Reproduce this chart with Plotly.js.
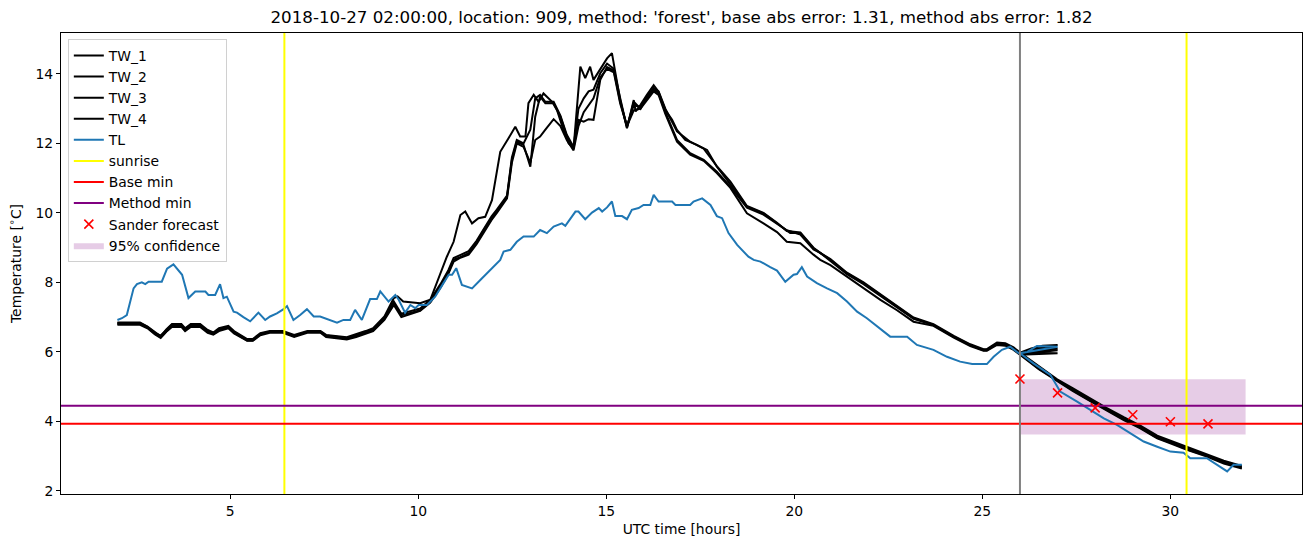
<!DOCTYPE html>
<html>
<head>
<meta charset="utf-8">
<script src="https://cdn.plot.ly/plotly-3.0.1.min.js"></script>
<style>
  html, body { margin: 0; padding: 0; background: #fff; }
  #plot { width: 1310px; height: 547px; }
</style>
</head>
<body>
<div id="plot"></div>
<script>
// Water temperature sensors TW_1 (early riser)
const tw1_hours = [2.0, 2.6, 2.8, 3.0, 3.15, 3.3, 3.45, 3.7, 3.8, 3.95, 4.2, 4.4, 4.55, 4.7, 4.95, 5.1, 5.45, 5.6, 5.8, 6.05,
  6.4, 6.7, 7.05, 7.4, 7.55, 8.1, 8.35, 8.6, 8.8, 9.1, 9.35, 9.45, 9.6, 10.05, 10.32, 10.59, 10.76, 10.94, 11.12, 11.25,
  11.43, 11.6, 11.78, 11.96, 12.09, 12.18, 12.4, 12.58, 12.71, 12.85, 12.93, 13.07, 13.2, 13.33, 13.56, 13.69, 13.86, 14.0, 14.13, 14.22,
  14.31, 14.44, 14.57, 14.66, 14.84, 15.02, 15.15, 15.37, 15.55, 15.73, 15.78, 15.91, 16.08, 16.26, 16.39, 16.57, 16.75, 16.88, 17.1, 17.41,
  17.68, 17.94, 18.21, 18.48, 18.74, 19.18, 19.54, 19.89, 20.16, 20.51, 20.96, 21.4, 21.84, 22.29, 22.73, 23.17, 23.7, 24.24, 24.68, 25.03,
  25.12, 25.39, 25.61, 25.83, 26.0, 26.3, 26.6, 27.0, 26.0, 26.5, 26.99, 27.4, 27.87, 28.3, 28.76, 29.2, 29.65, 30.05, 30.44, 30.97,
  31.42, 31.9];
const tw1_temp = [6.85, 6.85, 6.73, 6.58, 6.45, 6.65, 6.8, 6.8, 6.68, 6.8, 6.8, 6.63, 6.56, 6.68, 6.75, 6.6, 6.37, 6.37, 6.54, 6.6,
  6.6, 6.49, 6.6, 6.6, 6.49, 6.42, 6.5, 6.6, 6.68, 7.02, 7.55, 7.6, 7.45, 7.4, 7.5, 8.26, 8.74, 9.17, 9.94, 10.04,
  9.7, 9.85, 9.89, 10.37, 11.24, 11.76, 12.15, 12.48, 12.2, 12.2, 13.16, 13.4, 13.2, 13.44, 13.2, 12.96, 12.39, 12.0, 11.86, 13.06,
  14.21, 13.88, 14.21, 13.83, 14.16, 14.45, 14.6, 13.25, 12.44, 13.25, 12.92, 13.11, 13.4, 13.68, 13.49, 12.96, 12.68, 12.39, 12.1, 11.96,
  11.81, 11.33, 10.95, 10.57, 10.18, 9.99, 9.7, 9.42, 9.42, 8.98, 8.65, 8.26, 7.98, 7.64, 7.3, 6.97, 6.78, 6.44, 6.2, 6.06,
  6.06, 6.25, 6.23, 6.11, 5.96, 6.05, 6.12, 6.1, 5.96, 5.55, 5.19, 4.93, 4.62, 4.36, 4.09, 3.85, 3.56, 3.4, 3.23, 3.04,
  2.84, 2.7];

// TW_2..TW_4 share their time stamps
const tw_hours = [2.0, 2.6, 2.8, 3.0, 3.15, 3.3, 3.45, 3.7, 3.8, 3.95, 4.2, 4.4, 4.55, 4.7, 4.95, 5.1, 5.45, 5.6, 5.8, 6.05,
  6.4, 6.7, 7.05, 7.4, 7.55, 8.1, 8.35, 8.6, 8.8, 9.1,
  9.35, 9.55, 10.05, 10.32, 10.59, 10.8, 10.94, 11.1, 11.34, 11.55, 11.74, 11.95, 12.09, 12.36, 12.49, 12.62, 12.8, 12.98, 13.11, 13.24,
  13.38, 13.6, 13.78, 13.95, 14.13, 14.26, 14.4, 14.53, 14.66, 14.84, 15.02, 15.2, 15.37, 15.55, 15.73, 15.91, 16.08, 16.26, 16.39, 16.57,
  16.88, 17.23, 17.59, 17.94, 18.3, 18.74, 19.18, 19.54, 19.8, 20.16, 20.51, 20.69, 20.96, 21.4, 21.84, 22.29, 22.73, 23.17, 23.7, 24.24,
  24.68, 25.03, 25.12, 25.39, 25.61, 25.83, 26.0, 26.3, 26.6, 27.0, 26.0, 26.5, 26.99, 27.4, 27.87, 28.3, 28.76, 29.2, 29.65, 30.05,
  30.44, 30.97, 31.42, 31.9];
const tw2_temp = [6.8, 6.8, 6.7, 6.52, 6.42, 6.6, 6.75, 6.75, 6.62, 6.75, 6.75, 6.58, 6.52, 6.62, 6.7, 6.55, 6.33, 6.33, 6.5, 6.57,
  6.57, 6.45, 6.57, 6.57, 6.45, 6.38, 6.45, 6.55, 6.62, 6.95,
  7.4, 7.05, 7.2, 7.45, 7.9, 8.3, 8.65, 8.72, 8.84, 9.15, 9.51, 9.85, 10.04, 10.47, 11.53, 12.05, 11.96, 11.33, 12.77, 13.35,
  13.16, 13.16, 12.77, 12.2, 11.86, 12.68, 12.63, 12.7, 12.68, 13.83, 14.2, 14.1, 13.2, 12.5, 13.1, 13.05, 13.3, 13.55, 13.45, 12.9,
  12.1, 11.72, 11.53, 11.19, 10.76, 10.15, 9.95, 9.68, 9.5, 9.38, 8.95, 8.85, 8.62, 8.24, 7.95, 7.62, 7.28, 6.95, 6.77, 6.43,
  6.19, 6.05, 6.05, 6.23, 6.21, 6.09, 5.94, 6.0, 6.08, 6.05, 5.94, 5.52, 5.17, 4.9, 4.6, 4.33, 4.06, 3.82, 3.53, 3.37,
  3.2, 3.01, 2.81, 2.67];
const tw3_temp = [6.83, 6.83, 6.72, 6.55, 6.47, 6.63, 6.78, 6.78, 6.65, 6.78, 6.78, 6.6, 6.54, 6.65, 6.72, 6.58, 6.35, 6.35, 6.52, 6.58,
  6.58, 6.47, 6.58, 6.58, 6.47, 6.4, 6.48, 6.58, 6.65, 6.98,
  7.45, 7.1, 7.25, 7.5, 7.95, 8.35, 8.7, 8.78, 8.9, 9.2, 9.55, 9.9, 10.1, 10.5, 11.6, 12.1, 12.0, 12.4, 13.3, 13.4,
  13.2, 13.2, 12.8, 12.25, 11.9, 13.0, 13.3, 13.5, 13.55, 14.02, 14.3, 14.15, 13.3, 12.45, 13.2, 13.0, 13.35, 13.6, 13.5, 13.0,
  12.35, 12.05, 11.85, 11.35, 10.9, 10.2, 10.0, 9.72, 9.48, 9.44, 9.0, 8.85, 8.67, 8.28, 8.0, 7.66, 7.32, 6.99, 6.8, 6.46,
  6.22, 6.08, 6.08, 6.27, 6.25, 6.13, 5.98, 6.1, 6.18, 6.2, 5.98, 5.58, 5.21, 4.96, 4.65, 4.39, 4.12, 3.88, 3.59, 3.43,
  3.26, 3.07, 2.87, 2.72];
const tw4_temp = [6.78, 6.78, 6.68, 6.5, 6.4, 6.58, 6.72, 6.72, 6.6, 6.72, 6.72, 6.55, 6.5, 6.6, 6.68, 6.53, 6.32, 6.32, 6.48, 6.55,
  6.55, 6.43, 6.55, 6.55, 6.43, 6.36, 6.43, 6.53, 6.6, 6.92,
  7.35, 7.0, 7.18, 7.42, 7.85, 8.25, 8.6, 8.7, 8.8, 9.1, 9.45, 9.8, 10.0, 10.42, 11.45, 12.0, 11.9, 11.45, 12.1, 12.2,
  12.4, 12.7, 12.5, 12.1, 11.8, 12.5, 12.9, 13.1, 13.3, 13.9, 14.15, 14.05, 13.15, 12.5, 12.95, 13.0, 13.25, 13.5, 13.4, 12.85,
  12.05, 11.68, 11.5, 11.15, 10.72, 9.99, 9.7, 9.45, 9.17, 9.13, 8.8, 8.65, 8.5, 8.17, 7.85, 7.5, 7.2, 6.87, 6.75, 6.41,
  6.17, 6.03, 6.03, 6.2, 6.18, 6.06, 5.92, 5.95, 5.97, 5.96, 5.92, 5.5, 5.15, 4.88, 4.58, 4.31, 4.04, 3.8, 3.51, 3.35,
  3.18, 2.99, 2.79, 2.64];

// Air temperature TL
const tl_hours = [2.0, 2.12, 2.25, 2.43, 2.52, 2.65, 2.74, 2.83, 3.18, 3.32,
  3.49, 3.72, 3.89, 4.07, 4.34, 4.42, 4.6, 4.73, 4.82, 4.91,
  5.09, 5.18, 5.35, 5.53, 5.75, 5.93, 6.06, 6.24, 6.42, 6.51,
  6.68, 6.86, 7.04, 7.22, 7.39, 7.66, 7.84, 8.01, 8.19, 8.32,
  8.5, 8.72, 8.9, 8.99, 9.21, 9.39, 9.48, 9.65, 9.79, 9.92,
  10.01, 10.23, 10.45, 10.67, 10.81, 10.9, 11.01, 11.16, 11.43, 11.65,
  11.91, 12.18, 12.27, 12.45, 12.62, 12.8, 13.07, 13.24, 13.42, 13.6,
  13.82, 13.91, 14.18, 14.26, 14.44, 14.62, 14.8, 14.89, 15.02, 15.15,
  15.24, 15.42, 15.55, 15.68, 15.86, 15.99, 16.17, 16.26, 16.39, 16.75,
  16.84, 17.23, 17.32, 17.55, 17.77, 17.94, 18.08, 18.25, 18.48, 18.78,
  18.92, 19.1, 19.36, 19.54, 19.76, 19.98, 20.07, 20.2, 20.34, 20.6,
  20.87, 21.14, 21.4, 21.67, 21.93, 22.2, 22.55, 23.0, 23.26, 23.7,
  24.06, 24.41, 24.73, 25.12, 25.3, 25.52, 25.74, 25.97, 26.2, 26.45,
  27.0, 26.0, 26.36, 26.81, 27.07, 27.52, 27.87, 28.23, 28.58, 28.94,
  29.29, 29.65, 30.0, 30.35, 30.53, 30.97, 31.24, 31.51, 31.68, 31.9];
const tl_temp = [6.92, 6.97, 7.06, 7.83, 7.95, 8.0, 7.95, 8.02, 8.02, 8.4,
  8.52, 8.22, 7.55, 7.74, 7.74, 7.64, 7.64, 7.95, 7.55, 7.59,
  7.16, 7.13, 7.0, 6.88, 7.13, 6.92, 7.02, 7.11, 7.23, 7.32,
  6.92, 7.06, 7.23, 7.02, 7.02, 6.92, 6.84, 6.92, 6.92, 7.21,
  6.92, 7.52, 7.52, 7.74, 7.45, 7.64, 7.5, 7.13, 7.35, 7.26,
  7.35, 7.35, 7.59, 7.98, 8.22, 8.22, 8.41, 7.93, 7.83, 8.07,
  8.36, 8.65, 8.89, 8.94, 9.17, 9.32, 9.32, 9.51, 9.42, 9.61,
  9.7, 9.63, 10.04, 10.04, 9.82, 10.01, 10.14, 10.04, 10.16, 10.33,
  9.91, 9.91, 9.82, 10.09, 10.14, 10.23, 10.23, 10.52, 10.33, 10.33,
  10.23, 10.23, 10.33, 10.42, 10.23, 9.91, 9.85, 9.42, 9.08, 8.74,
  8.65, 8.6, 8.44, 8.34, 8.02, 8.22, 8.24, 8.44, 8.17, 7.98,
  7.83, 7.69, 7.45, 7.16, 6.97, 6.73, 6.44, 6.44, 6.2, 6.06,
  5.86, 5.72, 5.65, 5.65, 5.86, 6.06, 6.15, 5.96, 6.0, 6.17,
  6.15, 5.96, 5.67, 5.34, 4.86, 4.57, 4.33, 4.09, 3.9, 3.66,
  3.42, 3.27, 3.13, 3.1, 2.94, 2.94, 2.75, 2.56, 2.75, 2.75];

// Markers and reference levels
const sunrise_hours = [6.44, 30.43];
const forecast_start = 26;
const base_min = 3.93;
const method_min = 4.45;
const sander_hours = [26, 27, 28, 29, 30, 31];
const sander_temp = [5.22, 4.82, 4.39, 4.19, 3.99, 3.93];
const conf_hours = [26, 32];
const conf_low = [3.62, 3.62];
const conf_high = [5.21, 5.21];

const xRange = [0.5, 33.5];
const yRange = [1.91, 15.18];

[[tw1_hours, tw1_temp], [tw_hours, tw2_temp], [tw_hours, tw3_temp], [tw_hours, tw4_temp], [tl_hours, tl_temp]].forEach((p, i) => {
    if (p[0].length !== p[1].length) throw new Error('length mismatch in series ' + i + ': ' + p[0].length + ' vs ' + p[1].length);
});

const FONT = 'DejaVu Sans';
const LW = 2;

function line(x, y, name, color, rank, extra) {
    return Object.assign({
        x: x, y: y, name: name, mode: 'lines', type: 'scatter',
        line: {color: color, width: LW}, legendrank: rank, hoverinfo: 'skip'
    }, extra || {});
}

// vertical lines spanning the full axis
const vx = [], vy = [];
sunrise_hours.forEach(h => { vx.push(h, h, null); vy.push(yRange[0], yRange[1], null); });

const traces = [
    {
        x: conf_hours.concat(conf_hours.slice().reverse()),
        y: conf_low.concat(conf_high.slice().reverse()),
        type: 'scatter', mode: 'lines', fill: 'toself',
        fillcolor: 'rgba(128,0,128,0.2)', line: {width: 0, color: 'rgba(0,0,0,0)'},
        name: '95% confidence', legendrank: 10, hoverinfo: 'skip'
    },
    line(tw1_hours, tw1_temp, 'TW_1', 'black', 1),
    line(tw_hours, tw2_temp, 'TW_2', 'black', 2),
    line(tw_hours, tw3_temp, 'TW_3', 'black', 3),
    line(tw_hours, tw4_temp, 'TW_4', 'black', 4),
    line(tl_hours, tl_temp, 'TL', '#1f77b4', 5),
    line(vx, vy, 'sunrise', '#ffff00', 6),
    line(xRange, [base_min, base_min], 'Base min', '#ff0000', 7),
    line(xRange, [method_min, method_min], 'Method min', '#800080', 8),
    line([forecast_start, forecast_start], yRange, 'forecast', '#808080', 11, {showlegend: false}),
    {
        x: sander_hours, y: sander_temp, type: 'scatter', mode: 'markers',
        name: 'Sander forecast', legendrank: 9, hoverinfo: 'skip',
        marker: {symbol: 'x-thin', size: 9, color: '#ff0000', line: {color: '#ff0000', width: 1.6}}
    }
];

const axisCommon = {
    showline: true, mirror: true, linecolor: 'black', linewidth: 1,
    ticks: 'outside', ticklen: 4, tickwidth: 1, tickcolor: 'black',
    showgrid: false, zeroline: false, fixedrange: true,
    tickfont: {family: FONT, size: 13.9, color: 'black'}
};

const layout = {
    width: 1310, height: 547,
    margin: {l: 61, r: 8, t: 33, b: 53},
    paper_bgcolor: 'white', plot_bgcolor: 'white',
    font: {family: FONT, color: 'black'},
    title: {
        text: "2018-10-27 02:00:00, location: 909, method: 'forest', base abs error: 1.31, method abs error: 1.82",
        font: {family: FONT, size: 16.7, color: 'black'},
        x: 0.5, xref: 'paper', xanchor: 'center',
        y: 1 - 17 / 547, yref: 'container', yanchor: 'middle'
    },
    xaxis: Object.assign({}, axisCommon, {
        range: xRange, tickvals: [5, 10, 15, 20, 25, 30],
        title: {text: 'UTC time [hours]', font: {family: FONT, size: 13.9}, standoff: 6}
    }),
    yaxis: Object.assign({}, axisCommon, {
        range: yRange, tickvals: [2, 4, 6, 8, 10, 12, 14],
        title: {text: 'Temperature [<sup>∘</sup>C]', font: {family: FONT, size: 13.9}, standoff: 10}
    }),
    showlegend: true,
    legend: {
        x: 0.0055, y: 0.987, xanchor: 'left', yanchor: 'top',
        bgcolor: 'rgba(255,255,255,0.8)', bordercolor: '#d0d0d0', borderwidth: 1,
        font: {family: FONT, size: 13.9, color: 'black'},
        traceorder: 'normal', itemwidth: 30
    }
};

Plotly.newPlot('plot', traces, layout, {displayModeBar: false, staticPlot: true});
</script>
</body>
</html>
